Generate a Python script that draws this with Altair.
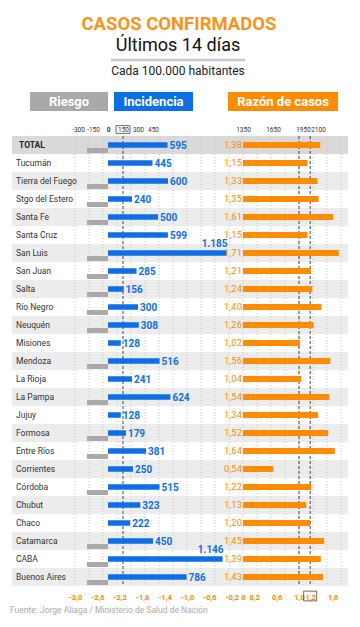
import altair as alt
import pandas as pd

# ---------------- data ----------------
names = ["TOTAL", "Tucumán", "Tierra del Fuego", "Stgo del Estero", "Santa Fe",
         "Santa Cruz", "San Luis", "San Juan", "Salta", "Río Negro", "Neuquén",
         "Misiones", "Mendoza", "La Rioja", "La Pampa", "Jujuy", "Formosa",
         "Entre Ríos", "Corrientes", "Córdoba", "Chubut", "Chaco", "Catamarca",
         "CABA", "Buenos Aires"]
incidencia = [595, 445, 600, 240, 500, 599, 1185, 285, 156, 300, 308, 128, 516,
              241, 624, 128, 179, 381, 250, 515, 323, 222, 450, 1146, 786]
razon = [1.38, 1.15, 1.33, 1.35, 1.61, 1.15, 1.71, 1.21, 1.24, 1.40, 1.26, 1.02,
         1.56, 1.04, 1.54, 1.34, 1.52, 1.64, 0.54, 1.22, 1.13, 1.20, 1.45, 1.39, 1.43]
riesgo = [1, 0, 1, 1, 1, 0, 1, 1, 1, 1, 1, 0, 1, 0, 1, 0, 1, 1, 0, 1, 0, 0, 1, 1, 1]

top_ticks = [-300, -150, 0, 150, 300, 450, 1350, 1650, 1950, 2100]
bottom_ticks = [-3.0, -2.6, -2.2, -1.8, -1.4, -1.0, -0.6, -0.2, 0, 0.2, 0.6, 1.0, 1.2, 1.6]
grid_ratio = [-3.0, -2.75, -2.5, -2.25, -2.0, -1.75, -1.5, -1.25, -1.0, -0.75,
              -0.5, -0.25, 0.0, 0.25, 0.5, 0.75, 1.0, 1.25, 1.5, 1.75]
umbral_incidencia = [150]
umbral_razon = [1.0, 1.2]
marca_razon = [1.2]

titulo = "CASOS CONFIRMADOS"
subtitulo = "Últimos 14 días"
nota = "Cada 100.000 habitantes"
fuente = "Fuente: Jorge Aliaga / Ministerio de Salud de Nación"

# ---------------- styles ----------------
W, H = 336, 450
BLUE = "#0c6fe6"
ORANGE = "#ff8c00"
GREY = "#a9a9a9"
FONT = "Roboto"

INC = alt.Scale(domain=[-960, 2400])
RAT = alt.Scale(domain=[-4.125, 1.875])
RSK = alt.Scale(domain=[-240 / 21, 96 / 21], reverse=True)

df = pd.DataFrame({"name": names, "incidencia": incidencia,
                   "razon": razon, "riesgo": riesgo})
df["shade"] = ["total" if i == 0 else ("par" if i % 2 == 0 else "impar")
               for i in range(len(df))]

Y = alt.Y("name:N", sort=names, scale=alt.Scale(paddingInner=0, paddingOuter=0),
          axis=None)
one = alt.Data(values=[{"k": 0}])

base = alt.Chart(df)

bands = base.transform_filter("datum.shade != 'impar'").mark_rect().encode(
    y=Y, x=alt.value(0), x2=alt.value(W),
    color=alt.Color("shade:N", scale=alt.Scale(domain=["total", "par"],
                                               range=["#d9d9d9", "#ececec"]),
                    legend=None))

grid = alt.Chart(pd.DataFrame({"g": grid_ratio})).mark_rule(
    color="#c4c4c4", strokeDash=[1, 2], strokeWidth=1).encode(
    x=alt.X("g:Q", scale=RAT, axis=None))

dash_inc = alt.Chart(pd.DataFrame({"v": umbral_incidencia})).mark_rule(
    color="#444", strokeDash=[3, 2], strokeWidth=1).encode(
    x=alt.X("v:Q", scale=INC, axis=None))

dash_rat = alt.Chart(pd.DataFrame({"v": umbral_razon})).mark_rule(
    color="#444", strokeDash=[3, 2], strokeWidth=1).encode(
    x=alt.X("v:Q", scale=RAT, axis=None))

risk_bars = base.transform_filter("datum.riesgo > 0").mark_bar(
    color=GREY, size=5, yOffset=5.5).encode(
    y=Y, x=alt.X("riesgo:Q", scale=RSK, axis=None), x2=alt.X2(datum=0))

inc_bars = base.mark_bar(color=BLUE, size=5.5).encode(
    y=Y,
    x=alt.X("incidencia:Q", scale=INC,
            axis=alt.Axis(orient="top", values=top_ticks,
                          labelExpr="toString(datum.value)",
                          ticks=False, tickSize=0, domain=False, grid=False,
                          labelPadding=4, labelFontSize=6.5, labelColor="#333",
                          labelOverlap=False, labelFlush=False,
                          labelFontWeight={"condition": {"test": "datum.value === 0",
                                                         "value": "bold"},
                                           "value": "normal"},
                          title=None)),
    x2=alt.X2(datum=0))

inc_lab_expr = "replace(format(datum.incidencia, ','), ',', '.')"
inc_labels = base.transform_filter("datum.incidencia < 1000").transform_calculate(
    lab=inc_lab_expr).mark_text(
    align="left", baseline="middle", dx=2, dy=0.5, fontSize=10,
    fontWeight="bold", color=BLUE).encode(
    y=Y, x=alt.X("incidencia:Q", scale=INC, axis=None), text="lab:N")

inc_labels_big = base.transform_filter("datum.incidencia >= 1000").transform_calculate(
    lab=inc_lab_expr).mark_text(
    align="right", baseline="middle", dx=1, dy=-9, fontSize=10,
    fontWeight="bold", color=BLUE).encode(
    y=Y, x=alt.X("incidencia:Q", scale=INC, axis=None), text="lab:N")

rat_bars = base.mark_bar(color=ORANGE, size=6).encode(
    y=Y,
    x=alt.X("razon:Q", scale=RAT,
            axis=alt.Axis(orient="bottom", values=bottom_ticks,
                          labelExpr="datum.value == 0 ? '0' : (datum.value < 0 ? '-' : '') + replace(format(abs(datum.value), '.1f'), '.', ',')",
                          ticks=False, tickSize=0, domain=False, grid=False,
                          labelPadding=7, labelFontSize=7.5, labelColor="#f08c00",
                          labelFontWeight="bold", labelOverlap=False,
                          labelFlush=False, title=None)),
    x2=alt.X2(datum=0))

rat_labels = base.transform_calculate(
    lab="replace(format(datum.razon, '.2f'), '.', ',')").mark_text(
    align="right", baseline="middle", dx=-1, fontSize=9.5, color=ORANGE).encode(
    y=Y, x=alt.X(datum=0, type="quantitative", scale=RAT, axis=None),
    text="lab:N")

row_labels = base.transform_filter("datum.name != 'TOTAL'").mark_text(
    align="left", baseline="middle", fontSize=8.5, color="#333").encode(
    y=Y, x=alt.value(4), text="name:N")

total_label = base.transform_filter("datum.name == 'TOTAL'").mark_text(
    align="left", baseline="middle", fontSize=8.5, fontWeight="bold",
    color="#222").encode(y=Y, x=alt.value(7), text="name:N")

box_inc = alt.Chart(pd.DataFrame({"v": umbral_incidencia})).mark_point(
    shape="M-1,-0.55H1V0.55H-1Z", filled=False, size=196, stroke="#444",
    strokeWidth=0.8, opacity=1).encode(
    x=alt.X("v:Q", scale=INC, axis=None), y=alt.value(-6.5))

box_rat = alt.Chart(pd.DataFrame({"v": marca_razon})).mark_point(
    shape="M-1,-0.75H1V0.75H-1Z", filled=False, size=169, stroke="#444",
    strokeWidth=0.8, opacity=1).encode(
    x=alt.X("v:Q", scale=RAT, axis=None), y=alt.value(460))

# ---------------- header & footer ----------------
t1 = alt.Chart(one).mark_text(text=titulo, fontSize=18.5, fontWeight="bold",
                              color="#f7941d", align="center",
                              baseline="alphabetic").encode(
    x=alt.value(167), y=alt.value(-106))
t2 = alt.Chart(one).mark_text(text=subtitulo, fontSize=18, color="#111",
                              align="center", baseline="alphabetic").encode(
    x=alt.value(166), y=alt.value(-85.5))
sep = alt.Chart(one).mark_rule(color="#c8c8c8", strokeWidth=2.5).encode(
    x=alt.value(99), x2=alt.value(233), y=alt.value(-76))
t3 = alt.Chart(one).mark_text(text=nota, fontSize=12, color="#222",
                              align="center", baseline="alphabetic").encode(
    x=alt.value(166), y=alt.value(-61))

def header_box(x0, x1, color, label):
    r = alt.Chart(one).mark_rect(color=color).encode(
        x=alt.value(x0), x2=alt.value(x1), y=alt.value(-44), y2=alt.value(-25))
    t = alt.Chart(one).mark_text(text=label, fontSize=13, fontWeight="bold",
                                 color="white", align="center",
                                 baseline="middle").encode(
        x=alt.value((x0 + x1) / 2), y=alt.value(-34))
    return [r, t]

boxes = (header_box(18, 96, GREY, "Riesgo")
         + header_box(102, 181, BLUE, "Incidencia")
         + header_box(216, 326, ORANGE, "Razón de casos"))

foot = alt.Chart(one).mark_text(text=fuente, fontSize=8.5, color="#aaaaaa",
                                align="left", baseline="middle").encode(
    x=alt.value(-2), y=alt.value(474))

chart = alt.layer(
    bands, grid, dash_inc, dash_rat, risk_bars, inc_bars, inc_labels,
    inc_labels_big, rat_bars, rat_labels, row_labels, total_label,
    box_inc, box_rat, t1, t2, sep, t3, *boxes, foot
).resolve_scale(x="independent").properties(
    width=W, height=H,
    padding={"left": 4, "top": 128, "right": 4, "bottom": 35},
    autosize=alt.AutoSizeParams(type="none"),
).configure(font=FONT).configure_view(stroke=None)

chart.save("out.html", embed_options={"renderer": "svg", "actions": False})
